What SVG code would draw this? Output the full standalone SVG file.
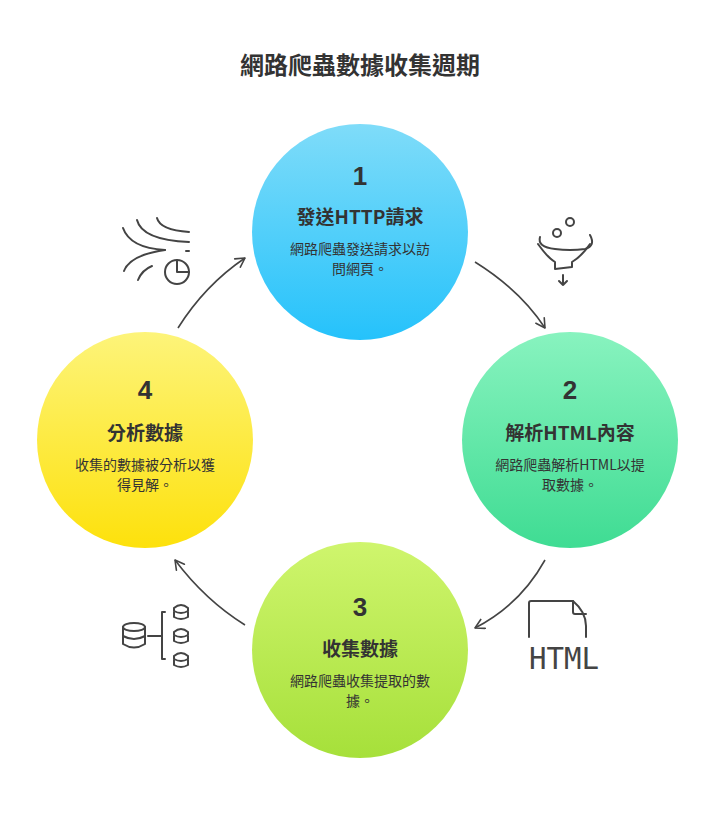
<svg xmlns="http://www.w3.org/2000/svg" width="720" height="828" viewBox="0 0 720 828">
<defs>
<linearGradient id="g1" x1="0" y1="0" x2="0" y2="1"><stop offset="0" stop-color="#7fdcf9"/><stop offset="1" stop-color="#25c2fb"/></linearGradient>
<linearGradient id="g2" x1="0" y1="0" x2="0" y2="1"><stop offset="0" stop-color="#88f3bf"/><stop offset="1" stop-color="#3fdc93"/></linearGradient>
<linearGradient id="g3" x1="0" y1="0" x2="0" y2="1"><stop offset="0" stop-color="#cff56d"/><stop offset="1" stop-color="#a6e03a"/></linearGradient>
<linearGradient id="g4" x1="0" y1="0" x2="0" y2="1"><stop offset="0" stop-color="#fdf47a"/><stop offset="1" stop-color="#fde10c"/></linearGradient>
<marker id="ah" viewBox="0 0 12 12" refX="10" refY="6" markerWidth="12" markerHeight="12" markerUnits="userSpaceOnUse" orient="auto"><path d="M1,1 L10,6 L1,11" fill="none" stroke="#444" stroke-width="1.6" stroke-linecap="round" stroke-linejoin="round"/></marker>
</defs>
<style>
text{font-family:"Noto Sans CJK TC","Noto Sans CJK SC",sans-serif;text-anchor:middle;fill:#333}
.t{font-size:24px;font-weight:bold}
.n{font-size:26px;font-weight:bold;font-family:"Liberation Sans","Noto Sans CJK TC",sans-serif}
.h{font-size:19px;font-weight:bold}
.d{font-size:14px}
.ic{fill:none;stroke:#444;stroke-width:2;stroke-linecap:round;stroke-linejoin:round}
.c{fill:none;stroke:#444;stroke-width:1.6;marker-end:url(#ah)}
</style>
<rect width="720" height="828" fill="#fff"/>
<text class="t" x="360" y="74">網路爬蟲數據收集週期</text>
<g id="connectors">
<path class="c" d="M475,262 Q520,290 545,328"/>
<path class="c" d="M545,560 Q520,605 475,628"/>
<path class="c" d="M245,625 Q205,600 175,560"/>
<path class="c" d="M178,328 Q205,285 245,258"/>
</g>
<g id="node1">
<circle cx="360" cy="232" r="108" fill="url(#g1)"/>
<text class="n" x="360" y="185">1</text>
<text class="h" x="360" y="224">發送HTTP請求</text>
<text class="d" x="360" y="254">網路爬蟲發送請求以訪</text>
<text class="d" x="360" y="274">問網頁。</text>
</g>
<g id="node2">
<circle cx="570" cy="440" r="108" fill="url(#g2)"/>
<text class="n" x="570" y="399">2</text>
<text class="h" x="570" y="440">解析HTML內容</text>
<text class="d" x="570" y="470">網路爬蟲解析HTML以提</text>
<text class="d" x="570" y="490">取數據。</text>
</g>
<g id="node3">
<circle cx="360" cy="650" r="108" fill="url(#g3)"/>
<text class="n" x="360" y="616">3</text>
<text class="h" x="360" y="656">收集數據</text>
<text class="d" x="360" y="686">網路爬蟲收集提取的數</text>
<text class="d" x="360" y="706">據。</text>
</g>
<g id="node4">
<circle cx="145" cy="440" r="108" fill="url(#g4)"/>
<text class="n" x="145" y="399">4</text>
<text class="h" x="145" y="440">分析數據</text>
<text class="d" x="145" y="470">收集的數據被分析以獲</text>
<text class="d" x="145" y="490">得見解。</text>
</g>
<g id="icon-analysis">
<path class="ic" d="M157,218 Q160,230 189,232"/>
<path class="ic" d="M137,220 Q142,240 189,242"/>
<path class="ic" d="M123,228 Q130,248 165,250"/>
<path class="ic" d="M124,271 Q130,255 165,250"/>
<path class="ic" d="M138,280 Q142,270 152,266"/>
<circle class="ic" cx="177" cy="272" r="12"/>
<path class="ic" d="M177,260 V272 H189"/>
<path class="ic" d="M186,251 H189"/>
</g>
<g id="icon-funnel">
<circle class="ic" cx="570" cy="222" r="4"/>
<circle class="ic" cx="557" cy="233" r="4"/>
<path class="ic" d="M540,237 Q537,247 555,249 Q570,251 585,249 Q596,246 590,235"/>
<path class="ic" d="M538,244 Q548,258 555,262 V269 L572,267 V262 Q582,256 590,244"/>
<path class="ic" d="M563,275 V285 M559,281 L563,285 L567,281"/>
</g>
<g id="icon-db">
<ellipse class="ic" cx="134" cy="627" rx="11" ry="4"/>
<path class="ic" d="M123,627 V644 Q134,651 145,644 V627 M123,636 Q134,642 145,636"/>
<path class="ic" d="M148,636 H162 M165,612 H162 V659 H165"/>
<g class="ic">
<path d="M174,608 Q181,602 188,608 V617 Q181,621 174,617 Z M174,611 Q181,615 188,611"/>
<path d="M174,632 Q181,626 188,632 V641 Q181,645 174,641 Z M174,635 Q181,639 188,635"/>
<path d="M174,656 Q181,650 188,656 V665 Q181,669 174,665 Z M174,659 Q181,663 188,659"/>
</g>
</g>
<g id="icon-html">
<path class="ic" d="M529,637 V603 Q529,601 531,601 H573 Q586,612 586,626 V637"/>
<path class="ic" d="M573,601 V612 Q573,614 575,614 H586"/>
<text x="564" y="669" style="font-family:'DejaVu Sans Mono',monospace;font-size:30px;fill:#444" textLength="70" lengthAdjust="spacingAndGlyphs">HTML</text>
</g>
</svg>
